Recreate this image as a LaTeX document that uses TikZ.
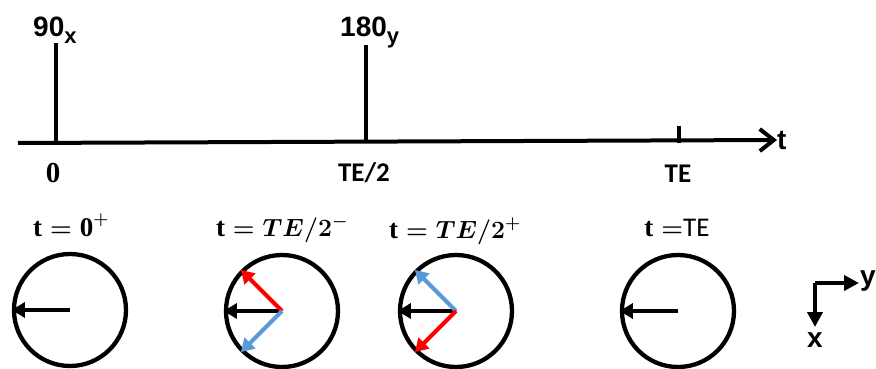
\documentclass[tikz,border=0pt]{standalone}
\usepackage{fontspec}
\setmainfont{Liberation Serif}
\setsansfont{Liberation Sans}
\newfontfamily\calibri{Carlito}
\usepackage{tikz}
\usetikzlibrary{arrows.meta}
\definecolor{spinred}{RGB}{255,0,0}
\definecolor{spinblue}{RGB}{91,155,213}
\newcommand{\subx}[1]{\raisebox{-7pt}{\fontsize{22}{24}\selectfont #1}}

\begin{document}
\begin{tikzpicture}[x=1pt,y=-1pt,
    lbl/.style={font=\fontsize{28}{32}\selectfont\sffamily\bfseries,inner sep=0pt},
    tlbl/.style={font=\fontsize{27}{30}\selectfont\calibri\bfseries,inner sep=0pt},
    mlbl/.style={font=\fontsize{27}{30}\selectfont\boldmath,inner sep=0pt},
    phase/.style={circle,draw,line width=4.3pt,minimum size=112pt,inner sep=0pt},
    spin/.style={line width=4pt,-{Triangle[length=13pt,width=15pt]}},
    bar/.style={line width=4pt}]

    \useasboundingbox (0,0) rectangle (876,369);

    % time axis
    \coordinate (start) at (18,143);
    \node[lbl,anchor=west] (t) at (777,140) {t};
    \draw[bar,-{Straight Barb[length=14pt,width=22pt,line width=4pt]}] (start) -- (t.west);

    \coordinate (p0) at (56,143);
    \coordinate (p0top) at (56,43);
    \coordinate (p180) at (366,143);
    \coordinate (p180top) at (366,45);
    \coordinate (pte) at (679,143);
    \coordinate (ptetop) at (679,126);

    \draw[bar] (p0) -- (p0top);
    \draw[bar] (p180) -- (p180top);
    \draw[bar] (pte) -- (ptetop);

    \node[lbl,anchor=base west] (n90)  at (33,37)  {90\subx{x}};
    \node[lbl,anchor=base west] (n180) at (340,37) {180\subx{y}};

    \node[font=\fontsize{29}{32}\selectfont\bfseries] (l0)   at (53,173)  {0};
    \node[tlbl]                                       (lte2) at (364,173) {TE/2};
    \node[tlbl]                                       (lte)  at (678,174) {TE};

    % magnetisation
    \node[mlbl,anchor=base] (h1) at (71,236)  {$\textbf{t}=\textbf{0}^{+}$};
    \node[mlbl,anchor=base] (h2) at (282,236) {$\textbf{t}=TE/2^{-}$};
    \node[mlbl,anchor=base] (h3) at (455,238) {$\textbf{t}=TE/2^{+}$};
    \node[mlbl,anchor=base] (h4) at (677,236) {$\textbf{t}=$\calibri TE};

    \node[phase] (c1) at (70,310)  {};
    \node[phase] (c2) at (282,311) {};
    \node[phase] (c3) at (456,311) {};
    \node[phase] (c4) at (678,311) {};

    \draw[spin] (c1.center) -- (c1.180);
    \draw[spin] (c2.center) -- (c2.180);
    \draw[spin,spinred] (c2.center) -- (c2.135);
    \draw[spin,spinblue] (c2.center) -- (c2.225);
    \draw[spin] (c3.center) -- (c3.180);
    \draw[spin,spinblue] (c3.center) -- (c3.135);
    \draw[spin,spinred] (c3.center) -- (c3.225);
    \draw[spin] (c4.center) -- (c4.180);

    % frame
    \coordinate (o) at (815,283);
    \coordinate (oy) at (859,283);
    \coordinate (ox) at (815,327);
    \node[lbl,anchor=west] (ay) at (860,281) {y};
    \node[lbl,anchor=north] (ax) at (815,333) {x};
    \draw[spin,-{Triangle[length=15pt,width=15pt]}] (o) -- (oy);
    \draw[spin,-{Triangle[length=15pt,width=15pt]}] (o) -- (ox);
  \end{tikzpicture}
\end{document}
